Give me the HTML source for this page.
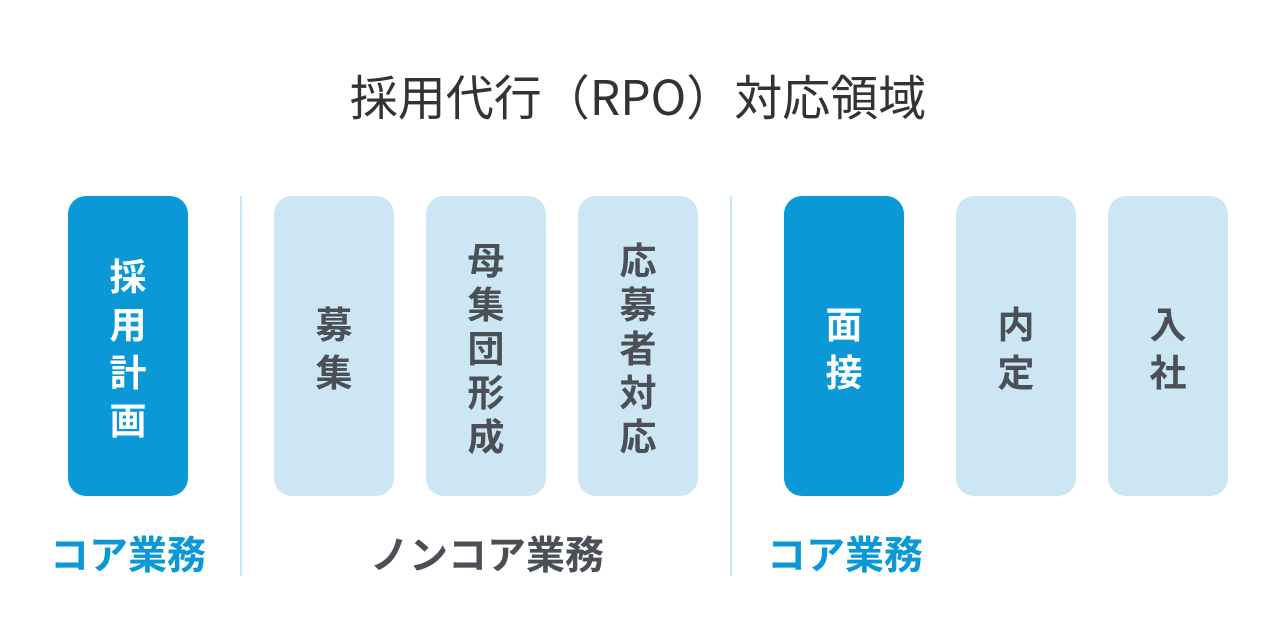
<!DOCTYPE html>
<html><head><meta charset="utf-8"><style>
body{margin:0;width:1276px;height:624px;background:#fff;position:relative;overflow:hidden;font-family:"Noto Sans CJK JP","Liberation Sans",sans-serif;}
.t{position:absolute;top:60px;left:0;width:1276px;text-align:center;font-size:48px;line-height:68px;color:#333;font-weight:400;}
.b{position:absolute;top:196px;width:120px;height:300px;border-radius:18px;display:flex;flex-direction:column;align-items:center;justify-content:center;font-weight:700;font-size:37px;line-height:48px;color:#4a5056;background:#cce6f4;}
.b span{display:block;height:48px;}
.d{background:#0a98d6;color:#fff;}
.f{line-height:44px;}
.f span{height:44px;}
.l{position:absolute;top:196px;width:2px;height:380px;background:#cce6f4;}
.c{position:absolute;top:526px;font-size:39px;font-weight:700;text-align:center;line-height:54px;}
</style></head><body>
<div class="t">採用代行（RPO）対応領域</div>
<div class="b d" style="left:68px"><span>採</span><span>用</span><span>計</span><span>画</span></div>
<div class="l" style="left:240px"></div>
<div class="b" style="left:274px"><span>募</span><span>集</span></div>
<div class="b f" style="left:426px"><span>母</span><span>集</span><span>団</span><span>形</span><span>成</span></div>
<div class="b f" style="left:578px"><span>応</span><span>募</span><span>者</span><span>対</span><span>応</span></div>
<div class="l" style="left:730px"></div>
<div class="b d" style="left:784px"><span>面</span><span>接</span></div>
<div class="b" style="left:956px"><span>内</span><span>定</span></div>
<div class="b" style="left:1108px"><span>入</span><span>社</span></div>
<div class="c" style="left:28px;width:200px;color:#0a98d6">コア業務</div>
<div class="c" style="left:317px;width:340px;color:#4a5056">ノンコア業務</div>
<div class="c" style="left:745px;width:200px;color:#0a98d6">コア業務</div>
</body></html>
